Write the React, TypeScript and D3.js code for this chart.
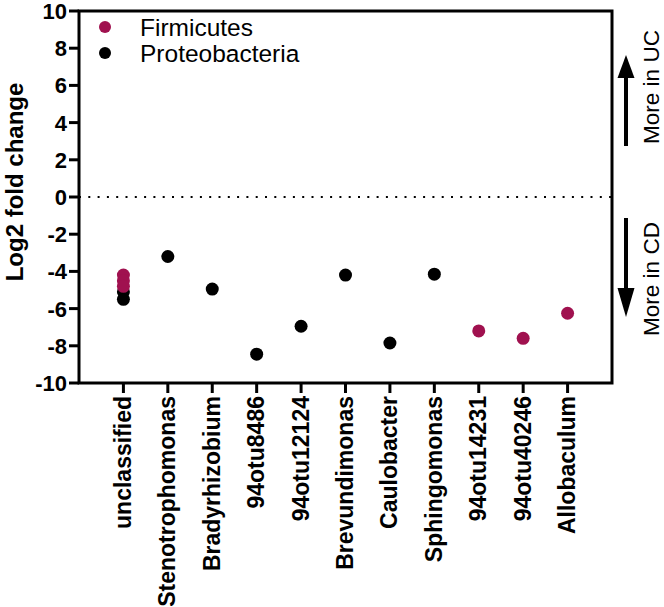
import React from "react";
import * as d3 from "d3";

const categories = [
  "unclassified",
  "Stenotrophomonas",
  "Bradyrhizobium",
  "94otu8486",
  "94otu12124",
  "Brevundimonas",
  "Caulobacter",
  "Sphingomonas",
  "94otu14231",
  "94otu40246",
  "Allobaculum",
];

const proteoCats = [
  "unclassified",
  "unclassified",
  "Stenotrophomonas",
  "Bradyrhizobium",
  "94otu8486",
  "94otu12124",
  "Brevundimonas",
  "Caulobacter",
  "Sphingomonas",
];
const proteoValues = [-5.1, -5.5, -3.2, -4.95, -8.45, -6.95, -4.2, -7.85, -4.15];

const firmCats = ["unclassified", "unclassified", "unclassified", "94otu14231", "94otu40246", "Allobaculum"];
const firmValues = [-4.2, -4.5, -4.8, -7.2, -7.6, -6.25];

const yTicks = [-10, -8, -6, -4, -2, 0, 2, 4, 6, 8, 10];

const legendLabels = ["Firmicutes", "Proteobacteria"];

const MAGENTA = "#a0114f";
const BLACK = "#000000";

export default function App() {
  const W = 664;
  const H = 607;
  const left = 79;
  const right = 612;
  const top = 11;
  const bottom = 383;

  const x = d3.scalePoint<string>().domain(categories).range([left, right]).padding(1);
  const y = d3.scaleLinear().domain([-10, 10]).range([bottom, top]);

  const font = "Arial, 'Liberation Sans', Helvetica, sans-serif";

  return (
    <svg width={W} height={H} style={{ position: "absolute", left: 0, top: 0, background: "#fff" }}>
      <rect x={0} y={0} width={W} height={H} fill="#fff" />
      {/* zero dotted line */}
      <line
        x1={left}
        x2={right}
        y1={y(0)}
        y2={y(0)}
        stroke="#000"
        strokeWidth={2.2}
        strokeDasharray="2 7.3"
      />
      {/* frame */}
      <rect
        x={left}
        y={top}
        width={right - left}
        height={bottom - top}
        fill="none"
        stroke="#000"
        strokeWidth={3}
      />
      {/* y ticks */}
      {yTicks.map((t) => (
        <g key={t}>
          <line x1={left - 10} x2={left} y1={y(t)} y2={y(t)} stroke="#000" strokeWidth={3} />
          <text
            x={left - 12}
            y={y(t)}
            dy="0.36em"
            textAnchor="end"
            fontFamily={font}
            fontWeight="bold"
            fontSize={22}
          >
            {t}
          </text>
        </g>
      ))}
      {/* x ticks and labels */}
      {categories.map((c) => (
        <g key={c}>
          <line x1={x(c)} x2={x(c)} y1={bottom} y2={bottom + 10} stroke="#000" strokeWidth={3} />
          <text
            transform={`translate(${(x(c) as number) + 7.5},${bottom + 13}) rotate(-90)`}
            textAnchor="end"
            fontFamily={font}
            fontWeight="bold"
            fontSize={23}
          >
            {c}
          </text>
        </g>
      ))}
      {/* y label */}
      <text
        transform={`translate(23,${182}) rotate(-90)`}
        textAnchor="middle"
        fontFamily={font}
        fontWeight="bold"
        fontSize={24}
      >
        Log2 fold change
      </text>
      {/* points */}
      {proteoValues.map((v, i) => (
        <circle key={"p" + i} cx={x(proteoCats[i])} cy={y(v)} r={6.5} fill={BLACK} />
      ))}
      {firmValues.map((v, i) => (
        <circle key={"f" + i} cx={x(firmCats[i])} cy={y(v)} r={6.5} fill={MAGENTA} />
      ))}
      {/* legend */}
      {legendLabels.map((l, i) => (
        <g key={l}>
          <circle cx={105} cy={27 + i * 26} r={6} fill={i === 0 ? MAGENTA : BLACK} />
          <text x={140} y={27 + i * 26} dy="0.36em" fontFamily={font} fontSize={24.5}>
            {l}
          </text>
        </g>
      ))}
      {/* arrows */}
      <line x1={626} x2={626} y1={146} y2={72} stroke="#000" strokeWidth={4} />
      <path d="M626,55 L617.5,78 L634.5,78 Z" fill="#000" />
      <line x1={626} x2={626} y1={218} y2={292} stroke="#000" strokeWidth={4} />
      <path d="M626,317 L617.5,288 L634.5,288 Z" fill="#000" />
      {/* side texts */}
      <text
        transform={`translate(659,87) rotate(-90)`}
        textAnchor="middle"
        fontFamily={font}
        fontSize={22.5}
      >
        More in UC
      </text>
      <text
        transform={`translate(659,279) rotate(-90)`}
        textAnchor="middle"
        fontFamily={font}
        fontSize={22.5}
      >
        More in CD
      </text>
    </svg>
  );
}
